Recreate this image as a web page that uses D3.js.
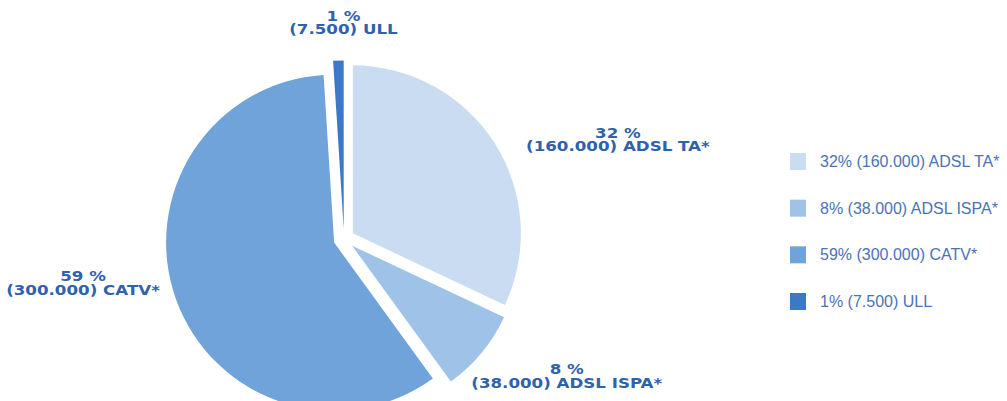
<!DOCTYPE html>
<html>
<head>
<meta charset="utf-8">
<script src="https://cdn.jsdelivr.net/npm/d3@7"></script>
<style>
  body { margin: 0; background: #ffffff; }
  svg { display: block; }
</style>
</head>
<body>
<svg id="chart" width="1007" height="401"></svg>
<script>
// Broadband access lines by technology
const categories = ["ADSL TA*", "ADSL ISPA*", "CATV*", "ULL"];
const shares = [32, 8, 59, 1];                               // percent of total
const counts = ["160.000", "38.000", "300.000", "7.500"];    // lines, as printed
const colors = ["#c9dcf1", "#9fc3e8", "#6fa3d9", "#3c78c7"];

// Layout
const cx = 344, cy = 239, radius = 168, explode = 10.5;
const labelColor = "#3062ab";
const legendColor = "#4b72b7";
// Where each data label block sits, relative to the slice's outer mid point
const labelShift = [[124, -6], [86, 22], [-94, -18], [5, -41]];

const svg = d3.select("#chart");

const data = categories.map((name, i) => ({
  name, share: shares[i], count: counts[i], color: colors[i]
}));

const pie = d3.pie().sort(null).value(d => d.share);
const arcs = pie(data);
const arc = d3.arc().innerRadius(0).outerRadius(radius);
const mid = d => (d.startAngle + d.endAngle) / 2;

const g = svg.append("g").attr("transform", `translate(${cx},${cy})`);

// Exploded slices
g.selectAll("path.slice")
  .data(arcs)
  .join("path")
  .attr("class", "slice")
  .attr("d", arc)
  .attr("fill", d => d.data.color)
  .attr("transform", d => {
    const m = mid(d);
    return `translate(${Math.sin(m) * explode},${-Math.cos(m) * explode})`;
  });

// Two-line data labels outside each slice (wide heavy type)
const outer = 177.5;
const labels = g.selectAll("text.label")
  .data(arcs)
  .join("text")
  .attr("class", "label")
  .attr("text-anchor", "middle")
  .attr("fill", labelColor)
  .style("font-family", "'DejaVu Sans', sans-serif")
  .style("font-weight", "bold")
  .style("font-size", "14.5px")
  .attr("transform", (d, i) => {
    const m = mid(d);
    const x = Math.sin(m) * outer + labelShift[i][0];
    const y = -Math.cos(m) * outer + labelShift[i][1];
    return `translate(${x},${y}) scale(1.15,1)`;
  });

labels.append("tspan")
  .attr("x", 0).attr("dy", 0)
  .text(d => `${d.data.share} %`);
labels.append("tspan")
  .attr("x", 0).attr("dy", 13.5)
  .text(d => `(${d.data.count}) ${d.data.name}`);

// Legend
const legendY = d3.scalePoint()
  .domain(categories)
  .range([161.5, 301.5]);

const legend = svg.append("g").attr("class", "legend");
const items = legend.selectAll("g")
  .data(data)
  .join("g")
  .attr("transform", d => `translate(790,${legendY(d.name)})`);

items.append("rect")
  .attr("x", 0).attr("y", -8.5)
  .attr("width", 16).attr("height", 17)
  .attr("fill", d => d.color);

items.append("text")
  .attr("x", 30).attr("y", 5.5)
  .attr("fill", legendColor)
  .style("font-family", "'Liberation Sans', Arial, sans-serif")
  .style("font-size", "16px")
  .text(d => `${d.share}% (${d.count}) ${d.name}`);
</script>
</body>
</html>
